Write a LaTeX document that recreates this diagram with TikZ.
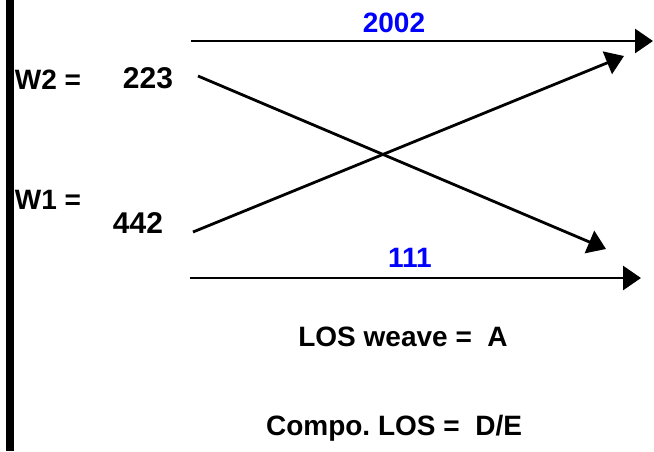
\documentclass[tikz,border=0pt]{standalone}
\usepackage{fontspec}
\setmainfont{Liberation Sans}
\usetikzlibrary{arrows.meta}
\definecolor{numblue}{RGB}{0,0,255}
\frenchspacing
\tikzset{
  lbl/.style={inner sep=0pt, font=\fontsize{28}{30}\selectfont\bfseries},
  bluelbl/.style={lbl, text=numblue},
  flow/.style={line width=2.8pt, -{Triangle[length=18pt,width=24pt]}}
}
\begin{document}
\begin{tikzpicture}[x=1pt,y=-1pt]
\useasboundingbox (0,0) rectangle (654,451);
\fill[black] (5.5,0) rectangle (14,451);
% text
\node[lbl] (w2) at (48,80) {W2 =};
\node[lbl, font=\fontsize{30}{31}\selectfont\bfseries] (v223) at (148,78) {223};
\node[lbl] (w1) at (48,200) {W1 =};
\node[lbl, font=\fontsize{30}{31}\selectfont\bfseries] (v442) at (138,223) {442};
\node[bluelbl] (n2002) at (394,23) {2002};
\node[bluelbl] (n111) at (410,258) {111};
\node[lbl] (los) at (403,337) {LOS weave =\ \ A};
\node[lbl] (comp) at (394,428) {Compo. LOS =\ \ D/E};
% connector endpoints
\coordinate (t0) at (191,41);
\coordinate (t1) at (653,41);
\coordinate (b0) at (190,278);
\coordinate (b1) at (641,278);
\coordinate (d0) at (198,76);
\coordinate (d1) at (606,249);
\coordinate (u0) at (193,232);
\coordinate (u1) at (624,56);
\draw[flow] (t0) -- (t1);
\draw[flow] (b0) -- (b1);
\draw[flow] (d0) -- (d1);
\draw[flow] (u0) -- (u1);
\end{tikzpicture}
\end{document}
